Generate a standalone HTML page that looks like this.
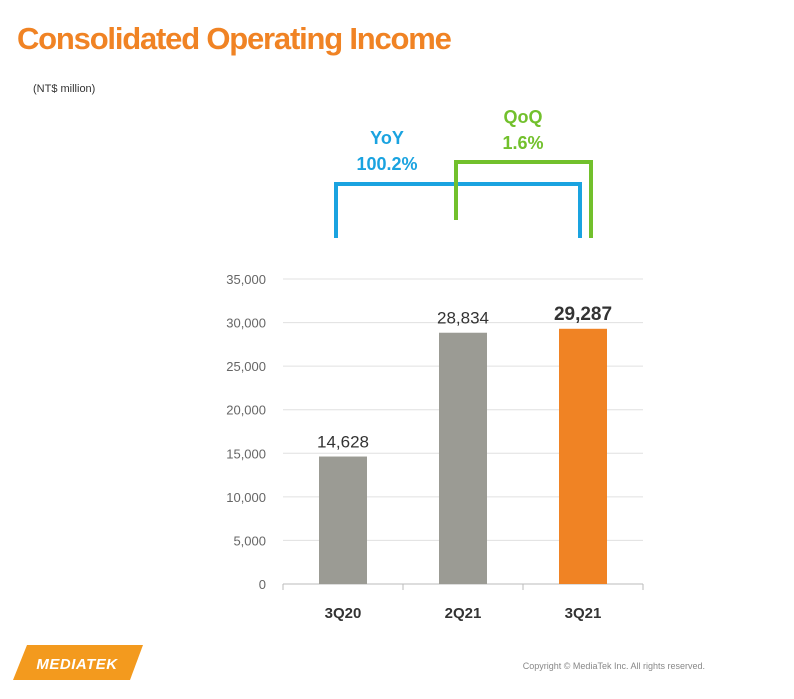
<!DOCTYPE html>
<html><head><meta charset="utf-8"><style>
body{margin:0;width:794px;height:694px;background:#fff;overflow:hidden;font-family:"Liberation Sans",sans-serif;}
</style></head><body>
<svg width="794" height="694" viewBox="0 0 794 694">
<text x="17" y="49" font-size="31" font-weight="bold" fill="#f08324" letter-spacing="-1.2">Consolidated Operating Income</text>
<text x="33" y="92" font-size="11" fill="#333">(NT$ million)</text>
<g>
<polyline points="336,238 336,184 580,184 580,238" fill="none" stroke="#1aa3e0" stroke-width="4"/>
<text x="387" y="144" font-size="18" font-weight="bold" fill="#1aa3e0" text-anchor="middle">YoY</text>
<text x="387" y="170" font-size="18" font-weight="bold" fill="#1aa3e0" text-anchor="middle">100.2%</text>
</g>
<g>
<polyline points="456,220 456,162 591,162 591,238" fill="none" stroke="#72c02c" stroke-width="4"/>
<text x="523" y="123" font-size="18" font-weight="bold" fill="#72c02c" text-anchor="middle">QoQ</text>
<text x="523" y="149" font-size="18" font-weight="bold" fill="#72c02c" text-anchor="middle">1.6%</text>
</g>
<g id="chart"></g>
<g>
<polygon points="27,645 143,645 130,680 13,680" fill="#f39a1e"/>
<text x="77" y="669" font-size="15" font-weight="bold" fill="#fff" text-anchor="middle" font-style="italic" letter-spacing="0.5">MEDIATEK</text>
</g>
<text x="705" y="669" font-size="9" fill="#888" text-anchor="end">Copyright © MediaTek Inc. All rights reserved.</text>
</svg>
<script>
const categories=["3Q20","2Q21","3Q21"];
const values=[14628,28834,29287];
const valueLabels=["14,628","28,834","29,287"];
const ticks=[0,5000,10000,15000,20000,25000,30000,35000];
const tickLabels=["0","5,000","10,000","15,000","20,000","25,000","30,000","35,000"];
const colors=["#9b9b94","#9b9b94","#f08324"];
const ns="http://www.w3.org/2000/svg";
const g=document.getElementById('chart');
const x0=283,x1=643,yB=584,yT=279,maxV=35000;
const y=v=>yB-(v/maxV)*(yB-yT);
const band=(x1-x0)/categories.length;
const cx=i=>x0+band*(i+0.5);
function mk(t,a){const e=document.createElementNS(ns,t);for(const k in a)e.setAttribute(k,a[k]);g.appendChild(e);return e;}
ticks.forEach((t,i)=>{
 const l=mk('line',{x1:x0,x2:x1,y1:y(t),y2:y(t),stroke:i==0?'#bbb':'#e0e0e0','stroke-width':1});
 
 
 const tx=mk('text',{x:266,y:y(t)+5,'font-size':13,fill:'#666','text-anchor':'end'});
 tx.textContent=tickLabels[i];
 
 
});
categories.forEach((c,i)=>{
 const b=mk('rect',{x:cx(i)-24,y:y(values[i]),width:48,height:yB-y(values[i]),fill:colors[i]});
 
 
 const last=i==categories.length-1;
 const v=mk('text',{x:cx(i),y:y(values[i])-9,'font-size':last?19:17,'font-weight':last?'bold':'normal',fill:'#333','text-anchor':'middle'});
 v.textContent=valueLabels[i];
 
 
 const cl=mk('text',{x:cx(i),y:618,'font-size':15,'font-weight':'bold',fill:'#333','text-anchor':'middle'});
 cl.textContent=c;
 
 
});
for(let i=0;i<=categories.length;i++){
 const t=mk('line',{x1:x0+band*i,x2:x0+band*i,y1:yB,y2:yB+6,stroke:'#bbb'});
 
 
}
</script>
</body></html>
